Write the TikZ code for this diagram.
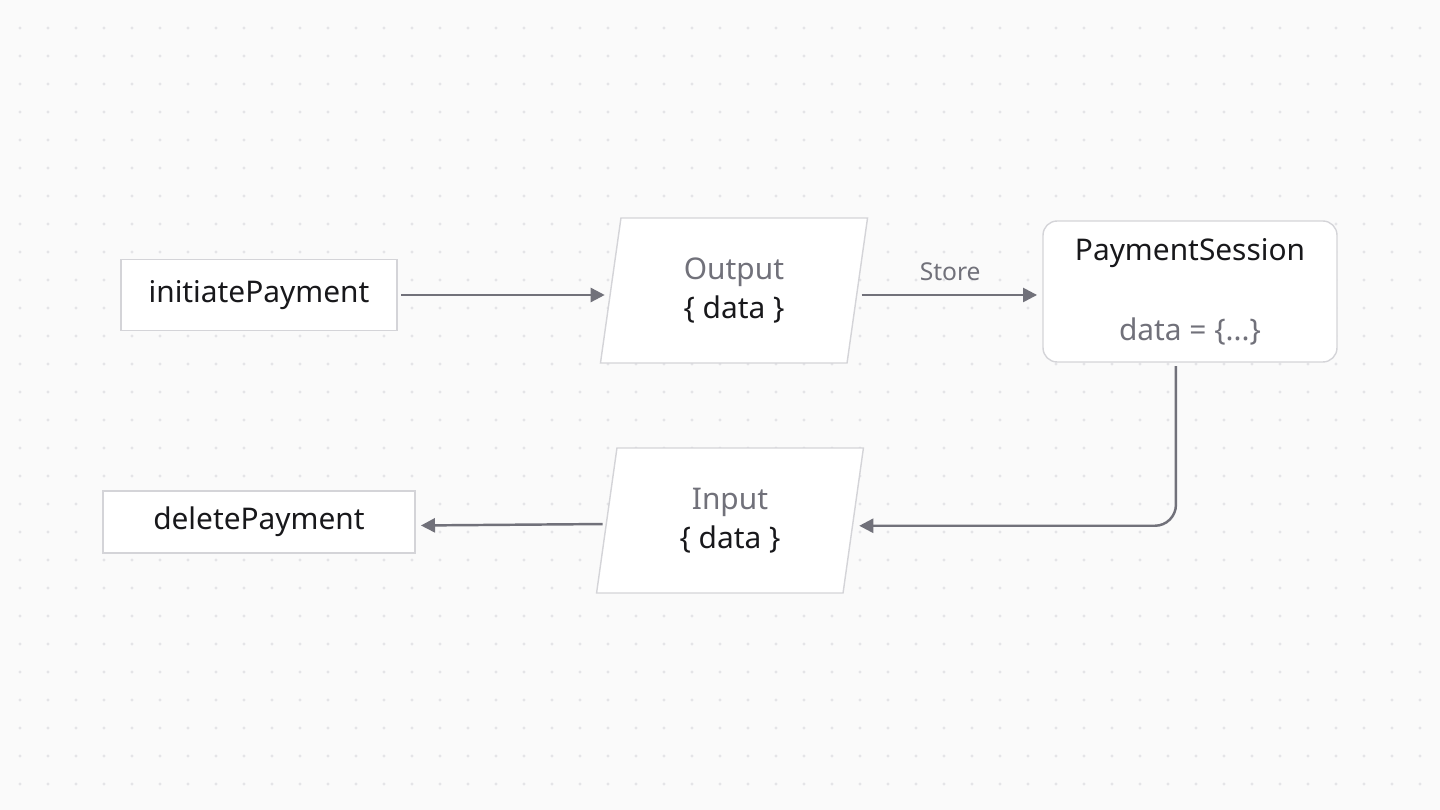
\documentclass[tikz,border=0pt]{standalone}
\usepackage{fontspec}
\setmainfont{Noto Sans}
\usetikzlibrary{positioning,shapes.geometric,arrows.meta}
\definecolor{bgcol}{HTML}{FAFAFA}
\definecolor{dotcol}{HTML}{E4E4E7}
\definecolor{edgecol}{HTML}{D4D4D8}
\definecolor{linecol}{HTML}{71717A}
\definecolor{inkcol}{HTML}{18181B}
\tikzset{
  funcNode/.style={rectangle,draw=edgecol,fill=white,thick,text=inkcol,font=\fontsize{17}{20}\selectfont,inner sep=0pt},
  dataNode/.style={trapezium,trapezium left angle=82,trapezium right angle=98,trapezium stretches=true,draw=edgecol,fill=white,thick,minimum width=5.36cm,minimum height=2.9cm,inner sep=0pt,align=center,font=\fontsize{17}{22}\selectfont},
  storeNode/.style={rectangle,rounded corners=8pt,draw=edgecol,fill=white,thick,minimum width=5.88cm,minimum height=2.82cm,inner sep=0pt,align=center,font=\fontsize{17}{22}\selectfont},
  flowArrow/.style={-{Triangle[length=8pt,width=8pt]},draw=linecol,line width=1.4pt,shorten >=3pt,shorten <=2pt}
}
\begin{document}
\begin{tikzpicture}[x=0.02cm,y=-0.02cm]
    \fill[bgcol] (0,0) rectangle (1440,810);
    \useasboundingbox (0,0) rectangle (1440,810);
    \foreach \i in {0,...,50}
      \foreach \j in {0,...,28}
        \fill[dotcol] (20+28*\i,28+28*\j) circle (1.7);

    \node[funcNode, minimum width=5.52cm, minimum height=1.42cm] (init) at (259,295) {initiatePayment};
    \node[dataNode] (out) at (734,290.5) {\textcolor{linecol}{Output}\\\textcolor{inkcol}{\{ data \}}};
    \node[storeNode] (sess) at (1190,291.5) {};
    \node[text=inkcol, font=\fontsize{17}{20}\selectfont] (sessname) at (1190,253) {PaymentSession};
    \node[text=linecol, font=\fontsize{17}{20}\selectfont] (sessdata) at (1190,332) {data = \{...\}};

    \node[funcNode, minimum width=6.24cm, minimum height=1.24cm] (del) at (259,522) {deletePayment};
    \node[dataNode] (in) at (730,520.5) {\textcolor{linecol}{Input}\\\textcolor{inkcol}{\{ data \}}};

    \draw[flowArrow] (init.east) -- (init.east -| out.west);
    \draw[flowArrow] (out.east |- init.east) -- node[above=4pt, text=linecol, font=\fontsize{14}{16}\selectfont] (lstore) {Store} (sess.west |- init.east);
    \draw[flowArrow, rounded corners=12pt] ([xshift=-8pt]sess.south) |- ([yshift=-3pt]in.east);
    \draw[flowArrow] ([yshift=-2pt]in.west) -- ([yshift=-2pt]del.east);
\end{tikzpicture}
\end{document}
